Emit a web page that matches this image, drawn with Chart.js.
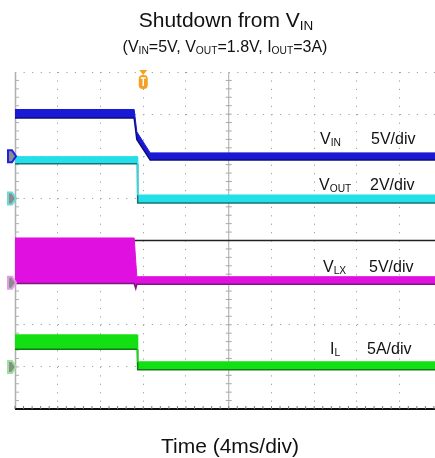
<!DOCTYPE html>
<html>
<head>
<meta charset="utf-8">
<script src="https://cdn.jsdelivr.net/npm/chart.js@4.4.1/dist/chart.umd.min.js"></script>
<style>
	html, body { margin: 0; padding: 0; background: #fff; }
	#wrap { position: relative; width: 435px; height: 458px; overflow: hidden; font-family: Arial, "Liberation Sans", sans-serif; color: #111; }
	#scope { position: absolute; left: 0; top: 0; }
	.txt { position: absolute; white-space: nowrap; line-height: 1; }
	.ctr { transform: translateX(-50%); }
	.sb { font-size: 0.64em; position: relative; top: 0.22em; }
</style>
</head>
<body>
<div id="wrap">
	<canvas id="scope" width="435" height="458"></canvas>
	<div class="txt ctr" style="left:226px; top:9px; font-size:21px;">Shutdown from V<span class="sb">IN</span></div>
	<div class="txt ctr" style="left:225px; top:39px; font-size:16px;">(V<span class="sb">IN</span>=5V, V<span class="sb">OUT</span>=1.8V, I<span class="sb">OUT</span>=3A)</div>
	<div class="txt ctr" style="left:230px; top:435px; font-size:21px;">Time (4ms/div)</div>

	<div class="txt" style="left:320px; top:131px; font-size:16px;">V<span class="sb">IN</span></div>
	<div class="txt" style="left:371px; top:131px; font-size:16px;">5V/div</div>
	<div class="txt" style="left:319px; top:177px; font-size:16px;">V<span class="sb">OUT</span></div>
	<div class="txt" style="left:370px; top:177px; font-size:16px;">2V/div</div>
	<div class="txt" style="left:323px; top:259px; font-size:16px;">V<span class="sb">LX</span></div>
	<div class="txt" style="left:369px; top:259px; font-size:16px;">5V/div</div>
	<div class="txt" style="left:330px; top:341px; font-size:16px;">I<span class="sb">L</span></div>
	<div class="txt" style="left:367px; top:341px; font-size:16px;">5A/div</div>
</div>
<script>
// 시간축 (ms), 4ms/div, 화면 오른쪽이 약간 잘림
const timeMax = 39.3;
const trigTime = 12;

// VIN 채널 (5V/div) - 상/하 노이즈 폭
const tVin = [0, 11.15, 11.4, 12.65, 39.3];
const vinHi = [5.55, 5.55, 2.9, 0.4, 0.4];
const vinLo = [4.55, 4.55, 2.0, -0.45, -0.45];

// VOUT 채널 (2V/div)
const tVout = [0, 11.45, 11.48, 39.3];
const voutHi = [1.98, 1.98, 0.16, 0.16];
const voutLo = [1.64, 1.64, -0.22, -0.22];

// VLX 채널 (5V/div) - 스위칭 구간은 0~5V 꽉 찬 띠
const tLx = [0, 11.15, 11.3, 11.4, 39.3];
const lxHi = [5.3, 5.3, 2.5, 0.7, 0.7];
const lxLo = [-0.1, -0.1, -0.7, -0.2, -0.2];

// IL 채널 (5A/div)
const tIl = [0, 11.44, 11.48, 39.3];
const ilHi = [3.8, 3.8, 0.6, 0.6];
const ilLo = [2.1, 2.1, -0.35, -0.35];

// 채널별 접지 위치 (div, 아래에서부터) 와 div당 값
const channels = [
	{ id: 'yVin', ground: 6, perDiv: 5, color: '#1a1ad6', edge: '#0c0c7a', mark: '#2020e0' },
	{ id: 'yVout', ground: 5, perDiv: 2, color: '#22dfe8', edge: '#1e7070', mark: '#6fd8d8' },
	{ id: 'yLx', ground: 3, perDiv: 5, color: '#e010e0', edge: '#7a1a7a', mark: '#e39be3' },
	{ id: 'yIl', ground: 1, perDiv: 5, color: '#12e012', edge: '#127a12', mark: '#9be39b' }
];

function toPts(ts, vs) {
	return ts.map((t, i) => ({ x: t, y: vs[i] }));
}

function band(ch, ts, hi, lo) {
	return [
		{ data: toPts(ts, hi), yAxisID: ch.id, borderColor: ch.color, borderWidth: 1, pointRadius: 0, fill: false },
		{ data: toPts(ts, lo), yAxisID: ch.id, borderColor: ch.edge, borderWidth: 1.5, pointRadius: 0, fill: '-1', backgroundColor: ch.color }
	];
}

const datasets = [
	...band(channels[0], tVin, vinHi, vinLo),
	...band(channels[1], tVout, voutHi, voutLo),
	...band(channels[2], tLx, lxHi, lxLo),
	...band(channels[3], tIl, ilHi, ilLo)
];

const scales = {
	x: {
		type: 'linear', min: 0, max: timeMax,
		ticks: { display: false, stepSize: 4, includeBounds: false },
		grid: {
			drawTicks: false,
			color: ctx => (ctx.tick && (ctx.tick.value === 0 || ctx.tick.value === 20)) ? 'rgba(0,0,0,0)' : '#a0a0a0'
		},
		border: { display: false, dash: [1.2, 7.225] }
	},
	y: {
		min: 0, max: 8,
		ticks: { display: false, stepSize: 1 },
		grid: {
			drawTicks: false,
			color: ctx => (ctx.tick && (ctx.tick.value === 0 || ctx.tick.value === 4)) ? 'rgba(0,0,0,0)' : '#a0a0a0'
		},
		border: { display: false, dash: [1.2, 7.35] }
	}
};
channels.forEach(ch => {
	scales[ch.id] = { display: false, min: -ch.ground * ch.perDiv, max: (8 - ch.ground) * ch.perDiv };
});

// 오실로스코프 눈금/마커 그리기
const scopeDecor = {
	id: 'scopeDecor',
	beforeDatasetsDraw(chart) {
		const { ctx, chartArea: a, scales: s } = chart;
		const cx = s.x.getPixelForValue(20);
		const cy = s.y.getPixelForValue(4);
		const dy = (a.bottom - a.top) / 40;
		const dx = (s.x.getPixelForValue(4) - s.x.getPixelForValue(0)) / 5;
		ctx.save();
		// 왼쪽 테두리
		ctx.strokeStyle = '#b0b0b0';
		ctx.lineWidth = 1.5;
		ctx.beginPath();
		ctx.moveTo(a.left + 0.5, a.top);
		ctx.lineTo(a.left + 0.5, a.bottom);
		ctx.stroke();
		ctx.lineWidth = 1;
		for (let i = 1; i < 40; i++) {
			const y = a.top + i * dy;
			ctx.beginPath();
			ctx.moveTo(a.left, y);
			ctx.lineTo(a.left + 4, y);
			ctx.stroke();
		}
		// 가운데 세로선
		ctx.strokeStyle = '#a8a8a8';
		ctx.beginPath();
		ctx.moveTo(cx, a.top);
		ctx.lineTo(cx, a.bottom);
		ctx.stroke();
		for (let i = 1; i < 40; i++) {
			const y = a.top + i * dy;
			ctx.beginPath();
			ctx.moveTo(cx - 3, y);
			ctx.lineTo(cx + 3, y);
			ctx.stroke();
		}
		// 가운데 가로선
		ctx.strokeStyle = '#222';
		ctx.lineWidth = 1.5;
		ctx.beginPath();
		ctx.moveTo(a.left, cy);
		ctx.lineTo(a.right, cy);
		ctx.stroke();
		// 아래 테두리
		ctx.strokeStyle = '#111';
		ctx.lineWidth = 2;
		ctx.beginPath();
		ctx.moveTo(a.left, a.bottom);
		ctx.lineTo(a.right, a.bottom);
		ctx.stroke();
		ctx.lineWidth = 1;
		ctx.strokeStyle = '#777';
		for (let x = a.left; x < a.right; x += dx) {
			ctx.beginPath();
			ctx.moveTo(x, a.bottom);
			ctx.lineTo(x, a.bottom - 3);
			ctx.stroke();
		}
		ctx.restore();
	},
	afterDraw(chart) {
		const { ctx, chartArea: a, scales: s } = chart;
		ctx.save();
		// 채널 접지 마커
		channels.forEach(ch => {
			const y = s[ch.id].getPixelForValue(0);
			ctx.beginPath();
			ctx.moveTo(8, y - 6);
			ctx.lineTo(12, y - 6);
			ctx.lineTo(16, y);
			ctx.lineTo(12, y + 6);
			ctx.lineTo(8, y + 6);
			ctx.closePath();
			ctx.fillStyle = '#8c8c8c';
			ctx.fill();
			ctx.strokeStyle = ch.mark;
			ctx.lineWidth = 2;
			ctx.stroke();
		});
		// 트리거 마커
		const tx = s.x.getPixelForValue(trigTime);
		ctx.fillStyle = '#f5a020';
		ctx.beginPath();
		ctx.moveTo(tx - 4, a.top - 2);
		ctx.lineTo(tx + 4, a.top - 2);
		ctx.lineTo(tx, a.top + 3);
		ctx.closePath();
		ctx.fill();
		ctx.beginPath();
		ctx.roundRect(tx - 4.5, a.top + 3, 9, 14, 4);
		ctx.fill();
		ctx.strokeStyle = '#fff';
		ctx.lineWidth = 1.5;
		ctx.beginPath();
		ctx.moveTo(tx - 2.5, a.top + 6);
		ctx.lineTo(tx + 2.5, a.top + 6);
		ctx.moveTo(tx, a.top + 6);
		ctx.lineTo(tx, a.top + 14);
		ctx.stroke();
		ctx.restore();
	}
};

new Chart(document.getElementById('scope'), {
	type: 'line',
	data: { datasets: datasets },
	options: {
		responsive: false,
		animation: false,
		devicePixelRatio: 1,
		layout: { padding: { left: 15, right: 0, top: 72, bottom: 49 } },
		scales: scales,
		plugins: {
			legend: { display: false },
			tooltip: { enabled: false }
		}
	},
	plugins: [scopeDecor]
});
</script>
</body>
</html>
